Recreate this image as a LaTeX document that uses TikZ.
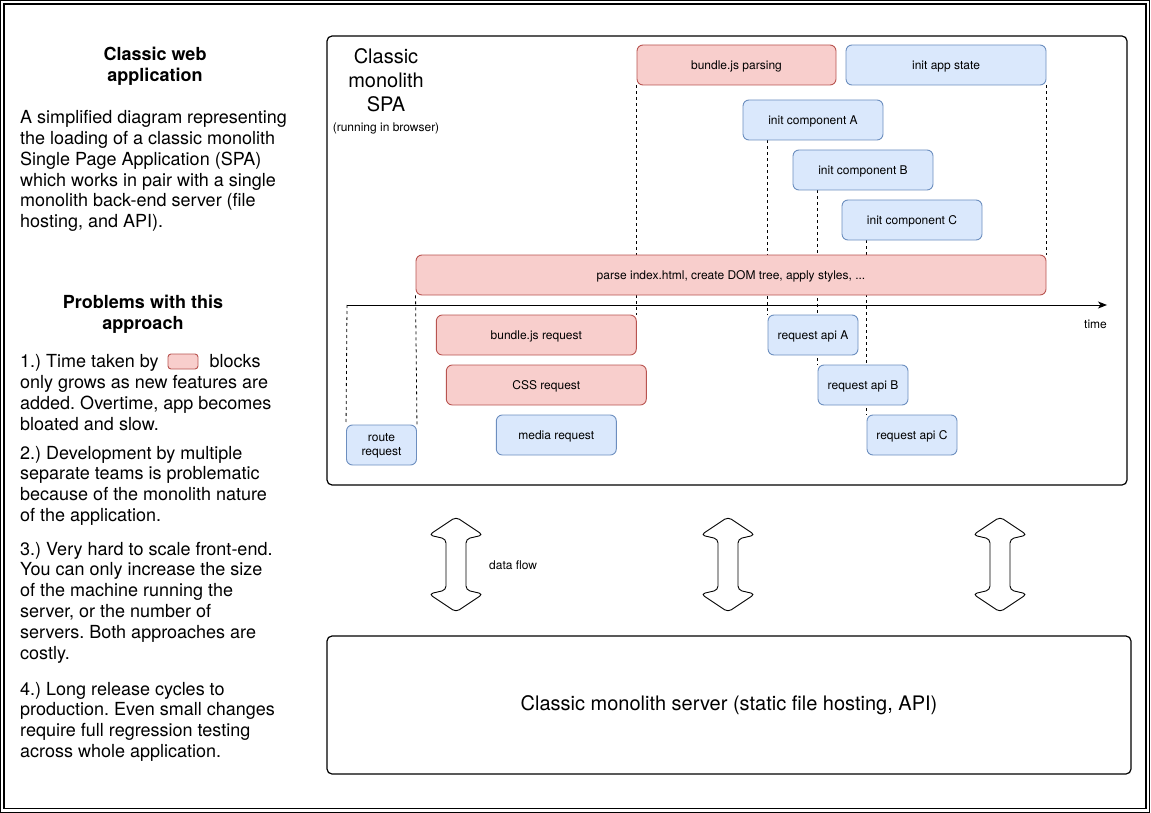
\documentclass[tikz,border=0pt]{standalone}
\usepackage{fontspec}
\setmainfont{TeX Gyre Heros}
\usetikzlibrary{arrows.meta}
\definecolor{redfill}{HTML}{F8CECC}
\definecolor{redline}{HTML}{B85450}
\definecolor{bluefill}{HTML}{DAE8FC}
\definecolor{blueline}{HTML}{6C8EBF}
\pgfdeclarelayer{bg}
\pgfsetlayers{bg,main}
\frenchspacing
\tikzset{
  box/.style={rectangle, rounded corners=6pt, line width=0.9pt, minimum height=40pt, inner sep=2pt, font=\fontsize{12}{14}\selectfont, align=center},
  oneline/.style={text height=9pt, text depth=0pt},
  redbox/.style={box, draw=redline, fill=redfill},
  bluebox/.style={box, draw=blueline, fill=bluefill},
  guide/.style={draw, line width=0.8pt, dash pattern=on 3pt off 3pt},
  container/.style={draw, line width=1.2pt, rounded corners=5pt, rectangle, inner sep=0pt},
  bodytext/.style={anchor=base west, inner sep=0pt, font=\fontsize{18}{20.7}\selectfont},
  headtext/.style={anchor=base, inner sep=0pt, font=\bfseries\fontsize{18}{20.7}\selectfont},
  smalltext/.style={inner sep=0pt, font=\fontsize{12}{14}\selectfont},
  titletext/.style={anchor=base, inner sep=0pt, font=\fontsize{20}{24}\selectfont},
  flowarrow/.style={draw, line width=0.9pt, fill=white, rounded corners=4pt},
}
\begin{document}
\begin{tikzpicture}[x=1pt,y=-1pt]
\useasboundingbox (0,0) rectangle (1151,813);
% outer double frame
\draw[line width=1.3pt] (0.8,0.8) rectangle (1149.8,812.2);
\draw[line width=1.3pt] (3.9,3.9) rectangle (1146,808.6);

% containers
\node[container, minimum width=800pt, minimum height=449pt] (spa) at (727,260.5) {};
\node[container, minimum width=804pt, minimum height=138pt, font=\fontsize{20}{24}\selectfont] (server) at (729,705) {Classic monolith server (static file hosting, API)};

% SPA title
\node[titletext] (t1) at (386,63.3) {Classic};
\node[titletext] (t2) at (386,87.3) {monolith};
\node[titletext] (t3) at (386,111.7) {SPA};
\node[smalltext, anchor=base] (t4) at (386,131.5) {(running in browser)};

% boxes
\node[redbox, oneline, minimum width=199pt] (bjsparse) at (736.5,65) {bundle.js parsing};
\node[bluebox, oneline, minimum width=200pt] (appstate) at (946,65) {init app state};
\node[bluebox, oneline, minimum width=140pt] (compA) at (813,120) {init component A};
\node[bluebox, oneline, minimum width=140pt] (compB) at (863,170) {init component B};
\node[bluebox, oneline, minimum width=140pt] (compC) at (912,220) {init component C};
\node[redbox, oneline, minimum width=630pt] (parse) at (731,275) {parse index.html, create DOM tree, apply styles, ...};
\node[redbox, oneline, minimum width=200pt] (bjsreq) at (536.3,335) {bundle.js request};
\node[redbox, oneline, minimum width=200pt] (cssreq) at (546.3,385) {CSS request};
\node[bluebox, oneline, minimum width=120pt] (media) at (556.3,435) {media request};
\node[bluebox, minimum width=70pt, font=\fontsize{12}{14}\selectfont] (route) at (381.5,445) {\rule{0pt}{10pt}route\\request};
\node[bluebox, oneline, minimum width=90pt] (apiA) at (813,335) {request api A};
\node[bluebox, oneline, minimum width=90pt] (apiB) at (863,385) {request api B};
\node[bluebox, oneline, minimum width=90pt] (apiC) at (912,435) {request api C};

% time axis
\coordinate (ax0) at (347,305);
\coordinate (ax1) at (1107,305);
\node[smalltext, anchor=base] (timelbl) at (1095.5,328.8) {time};

\begin{pgfonlayer}{bg}
\draw[line width=1pt, -{Stealth[length=9pt,width=7pt,inset=2.5pt]}] (ax0) -- (ax1);
\draw[guide] (ax0) -- (route.north west);
\draw[guide] (parse.south west) -- (route.north east);
\draw[guide] (bjsparse.south west) -- (bjsparse.south west |- bjsreq.north);
\draw[guide] (appstate.south east) -- (parse.north east);
\draw[guide] (apiA.north west |- compA.south) -- (apiA.north west);
\draw[guide] (apiB.north west |- compB.south) -- (apiB.north west);
\draw[guide] (apiC.north west |- compC.south) -- (apiC.north west);
\end{pgfonlayer}

% data flow arrows
\foreach \cx in {456,728,1000}
  \draw[flowarrow] (\cx,517) -- ++(27,18) -- ++(-17,4) -- ++(0,51) -- ++(17,4) -- ++(-27,18) -- ++(-27,-18) -- ++(17,-4) -- ++(0,-51) -- ++(-17,-4) -- cycle;
\node[smalltext, anchor=base west] (flowlbl) at (489,569) {data flow};

% left text
\node[headtext] (h1a) at (155,61) {Classic web};
\node[headtext] (h1b) at (155,82) {application};
\foreach \t [count=\i from 0] in {A simplified diagram representing, the loading of a classic monolith, Single Page Application (SPA), which works in pair with a single, monolith back-end server (file, {hosting, and API).}}
  \node[bodytext] (intro\i) at (20,{124+20.7*\i}) {\t};

\node[headtext] (h2a) at (143,308.3) {Problems with this};
\node[headtext] (h2b) at (143,329) {approach};

\node[bodytext] (p1a) at (20,367.3) {1.) Time taken by};
\node[redbox, minimum width=30pt, minimum height=15pt, rounded corners=3pt, inner sep=0pt] (legend) at (183,361.5) {};
\node[bodytext] (p1b) at (209.3,367.3) {blocks};
\foreach \t [count=\i from 1] in {only grows as new features are, {added. Overtime, app becomes}, bloated and slow.}
  \node[bodytext] (pa\i) at (20,{367.3+20.9*\i}) {\t};
\foreach \t [count=\i from 0] in {2.) Development by multiple, separate teams is problematic, because of the monolith nature, of the application.}
  \node[bodytext] (pb\i) at (20,{459+20.9*\i}) {\t};
\foreach \t [count=\i from 0] in {3.) Very hard to scale front-end., You can only increase the size, of the machine running the, {server, or the number of}, servers. Both approaches are, costly.}
  \node[bodytext] (pc\i) at (20,{555+20.86*\i}) {\t};
\foreach \t [count=\i from 0] in {4.) Long release cycles to, production. Even small changes, require full regression testing, across whole application.}
  \node[bodytext] (pd\i) at (20,{695+20.77*\i}) {\t};
\end{tikzpicture}
\end{document}
